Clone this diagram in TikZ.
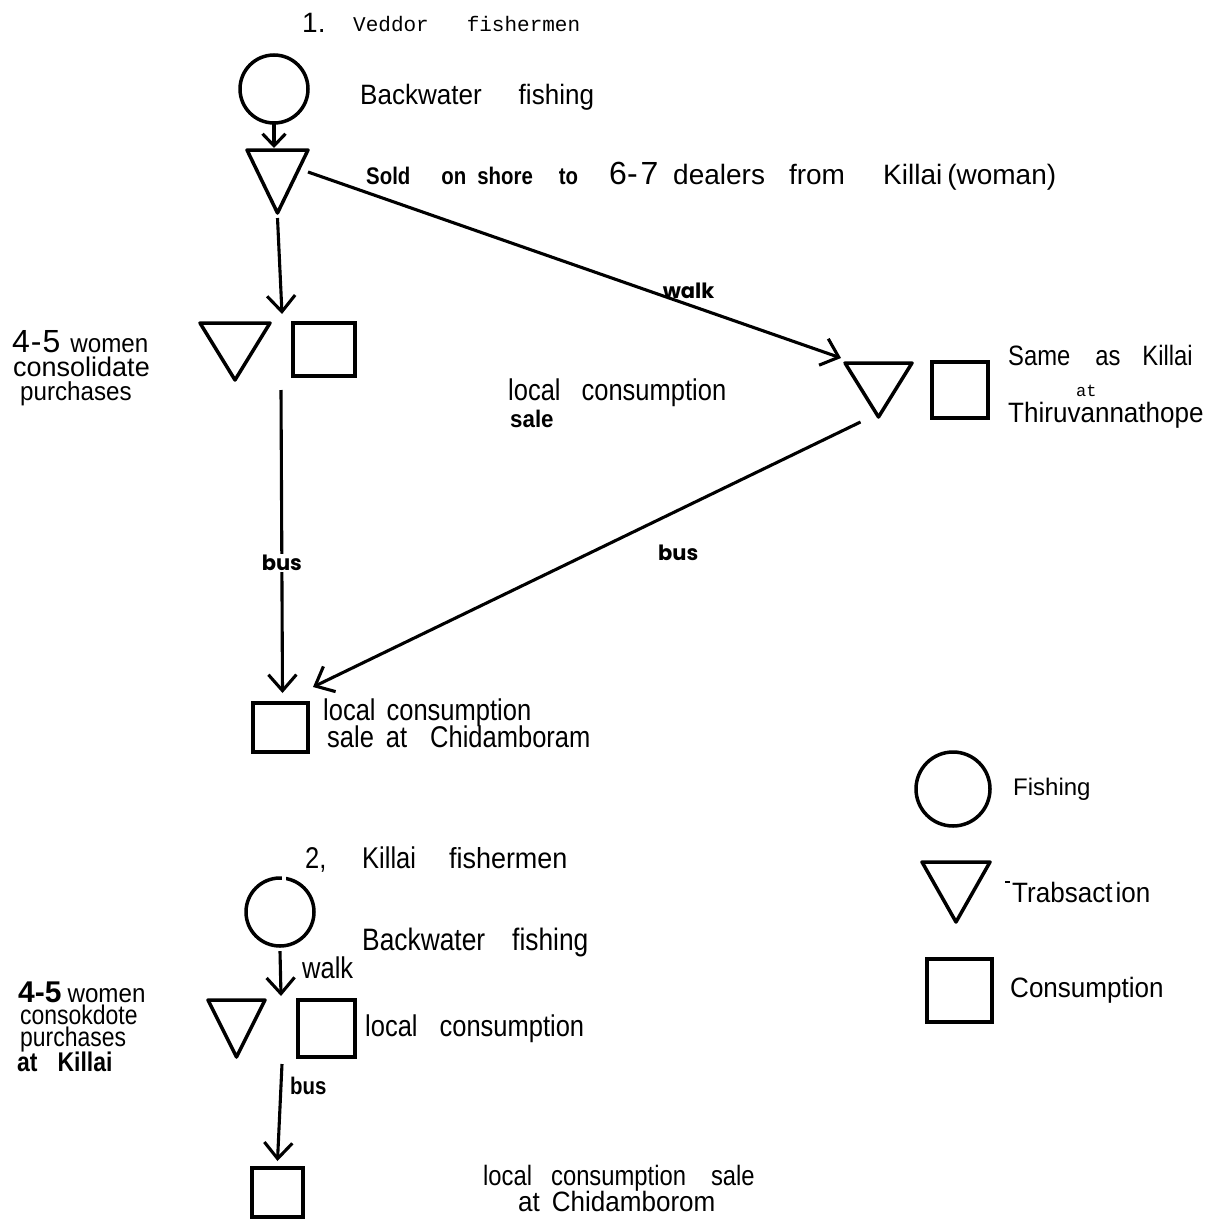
\documentclass[tikz,border=0pt]{standalone}
\usepackage{fontspec}
\setmainfont{Liberation Sans}
\newfontfamily\fA[FakeStretch=0.85]{Liberation Sans}
\newfontfamily\fB[FakeStretch=0.93]{Liberation Sans}
\newfontfamily\fM{Liberation Mono}
\newfontfamily\fG{Poppins}
\usetikzlibrary{arrows.meta}
\newcommand\fsz[1]{\fontsize{#1}{#1}\selectfont}
\newcommand\drawtri[1]{\draw[line width=3.5pt,line join=round] (#1.north west) -- (#1.north east) -- (#1.south) -- cycle;}
\begin{document}
\begin{tikzpicture}[x=1pt,y=-1pt,
  shp/.style={draw,line width=3.5pt,inner sep=0pt,outer sep=0pt},
  sqbox/.style={shp,rectangle},
  circbox/.style={shp,circle,minimum size=#1},
  tribox/.style={inner sep=0pt,outer sep=0pt,draw=none,rectangle},
  arr/.style={line width=3.1pt,-{Straight Barb[length=16pt,width=28pt]}},
  arrsmall/.style={line width=3.1pt,-{Straight Barb[length=12pt,width=23pt]}},
  txt/.style={inner sep=0pt,anchor=base west},
  gl/.style={font=\fG\bfseries\fsz{21},inner sep=1pt},
]
\useasboundingbox[fill=white] (0,0) rectangle (1218,1220);

% ---------- part 1 shapes
\node[circbox=68pt] (c1) at (274,89) {};
\node[tribox,minimum width=61pt,minimum height=63pt] (t1) at (277.5,181.5) {};
\drawtri{t1}
\node[tribox,minimum width=70pt,minimum height=57pt] (t2) at (235,351.5) {};
\drawtri{t2}
\node[sqbox,minimum width=62pt,minimum height=53pt] (s1) at (324,349.5) {};
\node[tribox,minimum width=67pt,minimum height=54pt] (t3) at (878.5,390) {};
\drawtri{t3}
\node[sqbox,minimum width=56pt,minimum height=56pt] (s2) at (960,390) {};
\node[sqbox,minimum width=55pt,minimum height=49pt] (s3) at (280.5,727.5) {};
\coordinate (j1) at (282,314);
\coordinate (j2) at (281,390);

\draw[arrsmall,shorten >=2pt] (c1.south) -- (c1.south |- t1.north);
\draw[arr] ([yshift=-5pt]t1.south) -- (j1);
\draw[arr] (j2) -- node[gl,fill=white,pos=0.57] {bus} ([xshift=2pt,yshift=10pt]s3.north);
\draw[arr] ([yshift=-22pt]t1.north east) -- node[gl,pos=0.714,above=4pt] {walk} ([xshift=-4pt,yshift=5pt]t3.north west);
\draw[arr] ([xshift=-18pt,yshift=-5pt]t3.south) -- node[gl,pos=0.333,yshift=-43pt] {bus} ([xshift=5pt,yshift=16pt]s3.north east);

% ---------- part 1 texts
\node[txt,font=\fsz{28}] (n1) at (302,33) {1.};
\node[txt,font=\fM\fsz{21}] (vf) at (353,32) {Veddor\hspace{38pt}fishermen};
\node[txt,font=\fB\fsz{28}] (bw1) at (360,105) {Backwater\hspace{37pt}fishing};
\node[txt,font=\fA\bfseries\fsz{24}] (sold) at (366,184) {Sold\hspace{31pt}on\hspace{11pt}shore\hspace{26pt}to};
\node[txt,font=\fsz{32}] (sx) at (609,184) {6-\hspace{3pt}7};
\node[txt,font=\fsz{28}] (dl) at (673,184) {dealers\hspace{24pt}from};
\node[txt,font=\fsz{28}] (kw) at (883,184) {Killai\hspace{5pt}(woman)};

\node[txt,font=\fsz{32}] (fw1) at (12,352) {4\hspace{1pt}-\hspace{1pt}5\hspace{10pt}{\fB\fsz{26}women}};
\node[txt,font=\fsz{27}] (con1) at (13,376) {consolidate};
\node[txt,font=\fB\fsz{26}] (pur1) at (20,400) {purchases};

\node[txt,font=\fA\fsz{30}] (lc1) at (508,400) {local\hspace{21pt}consumption};
\node[txt,font=\fB\bfseries\fsz{24}] (sl1) at (510,427) {sale};

\node[txt,font=\fA\fsz{28}] (sak) at (1008,365) {Same\hspace{25pt}as\hspace{22pt}Killai};
\node[txt,font=\fM\fsz{17}] (at1) at (1076,396) {at};
\node[txt,font=\fB\fsz{28}] (thi) at (1008,422) {Thiruvannathope};

\node[txt,font=\fA\fsz{30}] (lc2) at (323,720) {local\hspace{11pt}consumption};
\node[txt,font=\fA\fsz{30}] (sc2) at (327,747) {sale\hspace{12pt}at\hspace{23pt}Chidamboram};

% ---------- part 2 shapes
\node[circle,draw=none,minimum size=68pt,inner sep=0pt] (c2) at (280,912) {};
\draw[line width=3.5pt] (c2) circle[radius=34pt];
\fill[white] ([xshift=2pt,yshift=-3pt]c2.north) rectangle ([xshift=6pt,yshift=3pt]c2.north);
\node[tribox,minimum width=57pt,minimum height=57pt] (t4) at (236.5,1028.5) {};
\drawtri{t4}
\node[sqbox,minimum width=57pt,minimum height=57pt] (s4) at (326.5,1028.5) {};
\node[sqbox,minimum width=51pt,minimum height=49pt] (s5) at (277.5,1192.5) {};
\coordinate (j3) at (281,996);
\coordinate (j4) at (282,1064);
\draw[arr] ([yshift=-5pt]c2.south) -- (j3);
\draw[arr] (j4) -- ([yshift=7pt]s5.north);

% ---------- part 2 texts
\node[txt,font=\fA\fsz{30}] (n2) at (305,868) {2,};
\node[txt,font=\fA\fsz{30}] (kf) at (362,868) {Killai\hspace{33pt}{\fB\fsz{29}fishermen}};
\node[txt,font=\fA\fsz{31}] (bw2) at (362,950) {Backwater\hspace{27pt}fishing};
\node[txt,font=\fA\fsz{30}] (wk2) at (302,978) {walk};
\node[txt,font=\fA\fsz{26}] (fw2) at (18,1002) {{\fsz{30}\bfseries\fontspec{Liberation Sans}4-5}\hspace{6pt}{\fB women}};
\node[txt,font=\fA\fsz{27}] (con2) at (20,1024) {consokdote};
\node[txt,font=\fA\fsz{27}] (pur2) at (20,1046) {purchases};
\node[txt,font=\fA\bfseries\fsz{27}] (atk) at (17,1071) {at\hspace{20pt}Killai};
\node[txt,font=\fA\fsz{30}] (lc3) at (365,1036) {local\hspace{22pt}consumption};
\node[txt,font=\fA\bfseries\fsz{24}] (bs2) at (290,1094) {bus};
\node[txt,font=\fA\fsz{28}] (lc4) at (483,1185) {local\hspace{19pt}consumption\hspace{25pt}sale};
\node[txt,font=\fB\fsz{28}] (ch4) at (518,1211) {at\hspace{12pt}Chidamborom};

% ---------- legend
\node[circbox=74pt] (cl) at (953,789) {};
\node[txt,font=\fsz{24}] (lf) at (1013,795) {Fishing};
\node[tribox,minimum width=68pt,minimum height=60pt] (tl) at (956,892) {};
\drawtri{tl}
\draw[line width=1.5pt] (1005,882) -- (1010,882);
\node[txt,font=\fB\fsz{28}] (lt) at (1012,902) {Trabsact\hspace{3pt}ion};
\node[sqbox,minimum width=65pt,minimum height=63pt] (sl) at (959.5,990.5) {};
\node[txt,font=\fB\fsz{28}] (ls) at (1010,997) {Consumption};
\end{tikzpicture}
\end{document}
